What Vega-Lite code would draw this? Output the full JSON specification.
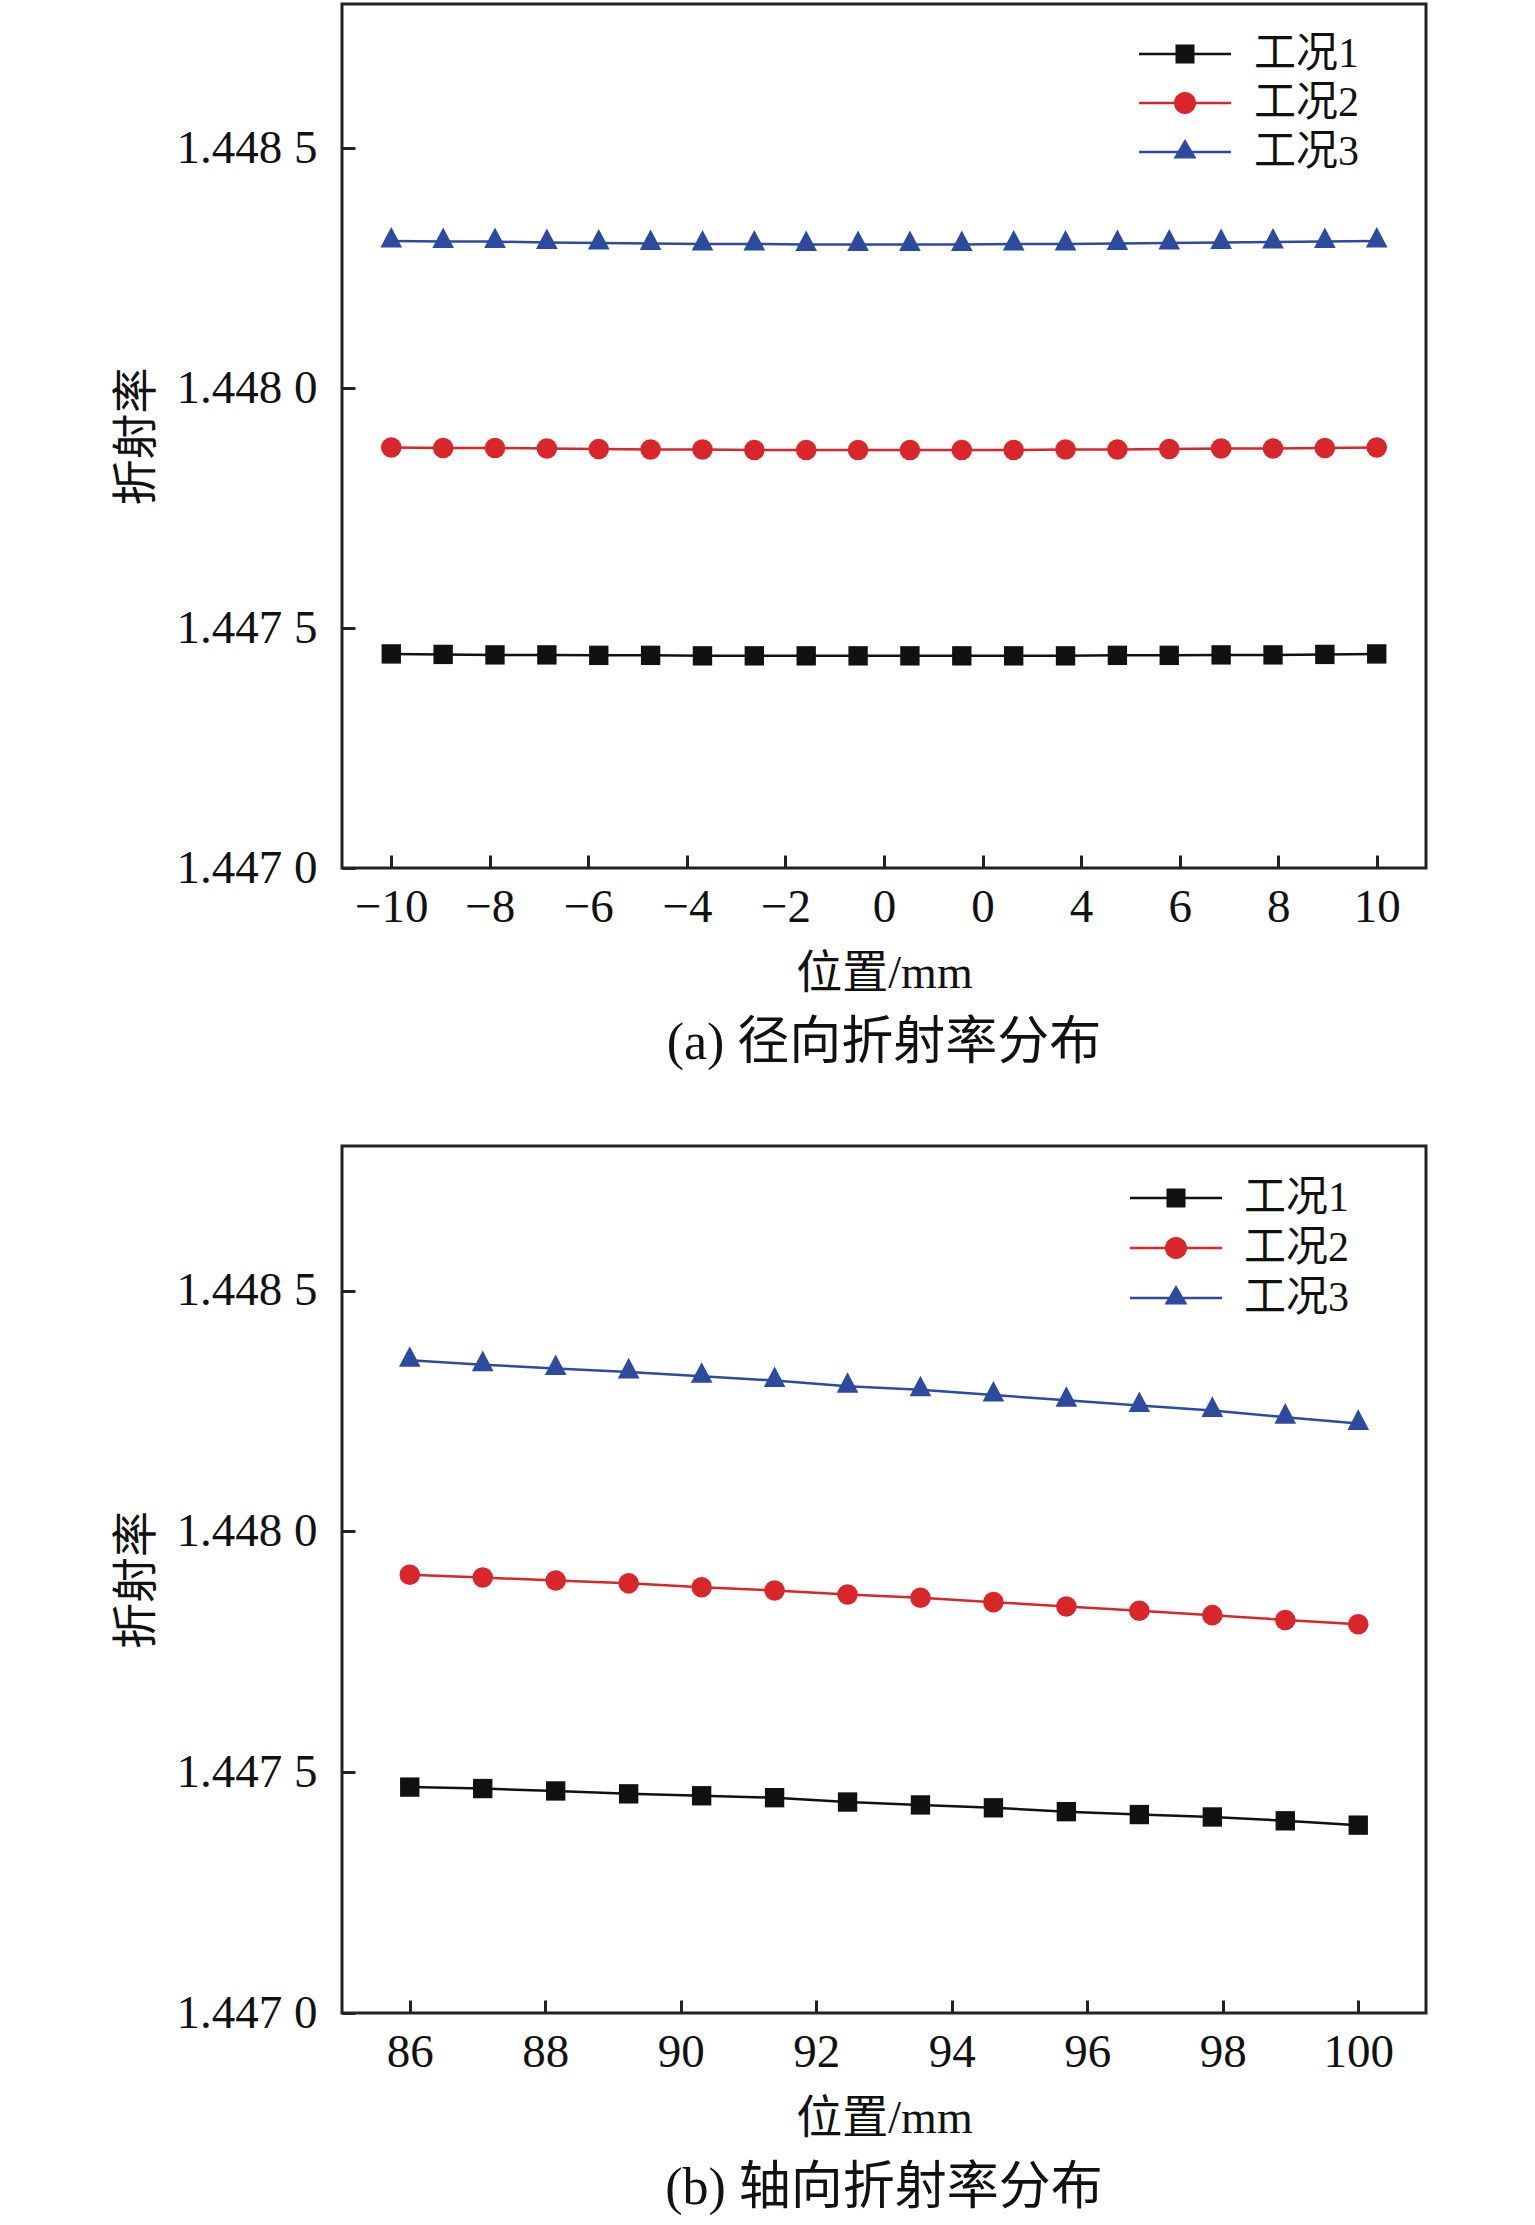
{
  "$schema": "https://vega.github.io/schema/vega-lite/v6.json",
  "padding": {"left": 111, "top": 2, "right": 5, "bottom": 5},
  "background": "white",
  "bounds": "flush",
  "spacing": 278,
  "config": {
    "view": {"stroke": "#222222", "strokeWidth": 3},
    "axis": {
      "grid": false,
      "domain": false,
      "ticks": true,
      "tickSize": -13,
      "tickWidth": 3,
      "tickColor": "#222222",
      "labelFont": "Liberation Serif, Noto Sans CJK SC",
      "labelFontSize": 47,
      "labelColor": "#111111",
      "titleFont": "Liberation Serif, Noto Sans CJK SC",
      "titleFontSize": 46,
      "titleFontWeight": "normal",
      "titleColor": "#111111"
    },
    "legend": {
      "labelFont": "Liberation Serif, Noto Sans CJK SC",
      "labelFontSize": 42,
      "labelColor": "#111111"
    },
    "title": {
      "font": "Liberation Serif, Noto Sans CJK SC",
      "fontSize": 52,
      "fontWeight": "normal",
      "color": "#111111"
    }
  },
  "datasets": {
    "radial": [
      {"x": -10, "n": 1.447446, "series": "工况1"},
      {"x": -8.947, "n": 1.447445, "series": "工况1"},
      {"x": -7.895, "n": 1.447444, "series": "工况1"},
      {"x": -6.842, "n": 1.447444, "series": "工况1"},
      {"x": -5.789, "n": 1.447443, "series": "工况1"},
      {"x": -4.737, "n": 1.447443, "series": "工况1"},
      {"x": -3.684, "n": 1.447442, "series": "工况1"},
      {"x": -2.632, "n": 1.447442, "series": "工况1"},
      {"x": -1.579, "n": 1.447442, "series": "工况1"},
      {"x": -0.526, "n": 1.447442, "series": "工况1"},
      {"x": 0.526, "n": 1.447442, "series": "工况1"},
      {"x": 1.579, "n": 1.447442, "series": "工况1"},
      {"x": 2.632, "n": 1.447442, "series": "工况1"},
      {"x": 3.684, "n": 1.447442, "series": "工况1"},
      {"x": 4.737, "n": 1.447443, "series": "工况1"},
      {"x": 5.789, "n": 1.447443, "series": "工况1"},
      {"x": 6.842, "n": 1.447444, "series": "工况1"},
      {"x": 7.895, "n": 1.447444, "series": "工况1"},
      {"x": 8.947, "n": 1.447445, "series": "工况1"},
      {"x": 10, "n": 1.447446, "series": "工况1"},
      {"x": -10, "n": 1.447876, "series": "工况2"},
      {"x": -8.947, "n": 1.447875, "series": "工况2"},
      {"x": -7.895, "n": 1.447875, "series": "工况2"},
      {"x": -6.842, "n": 1.447874, "series": "工况2"},
      {"x": -5.789, "n": 1.447873, "series": "工况2"},
      {"x": -4.737, "n": 1.447872, "series": "工况2"},
      {"x": -3.684, "n": 1.447872, "series": "工况2"},
      {"x": -2.632, "n": 1.447871, "series": "工况2"},
      {"x": -1.579, "n": 1.447871, "series": "工况2"},
      {"x": -0.526, "n": 1.447871, "series": "工况2"},
      {"x": 0.526, "n": 1.447871, "series": "工况2"},
      {"x": 1.579, "n": 1.447871, "series": "工况2"},
      {"x": 2.632, "n": 1.447871, "series": "工况2"},
      {"x": 3.684, "n": 1.447872, "series": "工况2"},
      {"x": 4.737, "n": 1.447872, "series": "工况2"},
      {"x": 5.789, "n": 1.447873, "series": "工况2"},
      {"x": 6.842, "n": 1.447874, "series": "工况2"},
      {"x": 7.895, "n": 1.447874, "series": "工况2"},
      {"x": 8.947, "n": 1.447875, "series": "工况2"},
      {"x": 10, "n": 1.447876, "series": "工况2"},
      {"x": -10, "n": 1.448306, "series": "工况3"},
      {"x": -8.947, "n": 1.448305, "series": "工况3"},
      {"x": -7.895, "n": 1.448305, "series": "工况3"},
      {"x": -6.842, "n": 1.448303, "series": "工况3"},
      {"x": -5.789, "n": 1.448302, "series": "工况3"},
      {"x": -4.737, "n": 1.448301, "series": "工况3"},
      {"x": -3.684, "n": 1.4483, "series": "工况3"},
      {"x": -2.632, "n": 1.4483, "series": "工况3"},
      {"x": -1.579, "n": 1.448299, "series": "工况3"},
      {"x": -0.526, "n": 1.448299, "series": "工况3"},
      {"x": 0.526, "n": 1.448299, "series": "工况3"},
      {"x": 1.579, "n": 1.448299, "series": "工况3"},
      {"x": 2.632, "n": 1.4483, "series": "工况3"},
      {"x": 3.684, "n": 1.4483, "series": "工况3"},
      {"x": 4.737, "n": 1.448301, "series": "工况3"},
      {"x": 5.789, "n": 1.448302, "series": "工况3"},
      {"x": 6.842, "n": 1.448303, "series": "工况3"},
      {"x": 7.895, "n": 1.448304, "series": "工况3"},
      {"x": 8.947, "n": 1.448305, "series": "工况3"},
      {"x": 10, "n": 1.448306, "series": "工况3"}
    ],
    "axial": [
      {"x": 86, "n": 1.447469, "series": "工况1"},
      {"x": 87.077, "n": 1.447466, "series": "工况1"},
      {"x": 88.154, "n": 1.447461, "series": "工况1"},
      {"x": 89.231, "n": 1.447455, "series": "工况1"},
      {"x": 90.308, "n": 1.447451, "series": "工况1"},
      {"x": 91.385, "n": 1.447447, "series": "工况1"},
      {"x": 92.462, "n": 1.447438, "series": "工况1"},
      {"x": 93.538, "n": 1.447432, "series": "工况1"},
      {"x": 94.615, "n": 1.447426, "series": "工况1"},
      {"x": 95.692, "n": 1.447418, "series": "工况1"},
      {"x": 96.769, "n": 1.447412, "series": "工况1"},
      {"x": 97.846, "n": 1.447407, "series": "工况1"},
      {"x": 98.923, "n": 1.447399, "series": "工况1"},
      {"x": 100, "n": 1.44739, "series": "工况1"},
      {"x": 86, "n": 1.44791, "series": "工况2"},
      {"x": 87.077, "n": 1.447904, "series": "工况2"},
      {"x": 88.154, "n": 1.447898, "series": "工况2"},
      {"x": 89.231, "n": 1.447892, "series": "工况2"},
      {"x": 90.308, "n": 1.447884, "series": "工况2"},
      {"x": 91.385, "n": 1.447877, "series": "工况2"},
      {"x": 92.462, "n": 1.447869, "series": "工况2"},
      {"x": 93.538, "n": 1.447862, "series": "工况2"},
      {"x": 94.615, "n": 1.447853, "series": "工况2"},
      {"x": 95.692, "n": 1.447844, "series": "工况2"},
      {"x": 96.769, "n": 1.447835, "series": "工况2"},
      {"x": 97.846, "n": 1.447826, "series": "工况2"},
      {"x": 98.923, "n": 1.447816, "series": "工况2"},
      {"x": 100, "n": 1.447807, "series": "工况2"},
      {"x": 86, "n": 1.448355, "series": "工况3"},
      {"x": 87.077, "n": 1.448346, "series": "工况3"},
      {"x": 88.154, "n": 1.448338, "series": "工况3"},
      {"x": 89.231, "n": 1.448331, "series": "工况3"},
      {"x": 90.308, "n": 1.448322, "series": "工况3"},
      {"x": 91.385, "n": 1.448313, "series": "工况3"},
      {"x": 92.462, "n": 1.448301, "series": "工况3"},
      {"x": 93.538, "n": 1.448294, "series": "工况3"},
      {"x": 94.615, "n": 1.448283, "series": "工况3"},
      {"x": 95.692, "n": 1.448272, "series": "工况3"},
      {"x": 96.769, "n": 1.448261, "series": "工况3"},
      {"x": 97.846, "n": 1.448251, "series": "工况3"},
      {"x": 98.923, "n": 1.448237, "series": "工况3"},
      {"x": 100, "n": 1.448224, "series": "工况3"}
    ]
  },
  "vconcat": [
    {
      "width": 1084,
      "height": 864,
      "data": {"name": "radial"},
      "title": {"text": "(a) 径向折射率分布", "orient": "bottom", "offset": 22, "anchor": "middle"},
      "encoding": {
        "x": {
          "field": "x", "type": "quantitative",
          "scale": {"domain": [-11, 11], "nice": false, "zero": false},
          "axis": {"title": "位置/mm", "values": [-10, -8, -6, -4, -2, 0, 2, 4, 6, 8, 10], "format": "d", "labelExpr": "datum.value == 2 ? '0' : datum.label", "labelPadding": 29, "titlePadding": 21}
        },
        "y": {
          "field": "n", "type": "quantitative",
          "scale": {"domain": [1.447, 1.4488], "nice": false, "zero": false},
          "axis": {"title": "折射率", "values": [1.447, 1.4475, 1.448, 1.4485], "labelExpr": "slice(format(datum.value, '.4f'), 0, 5) + ' ' + slice(format(datum.value, '.4f'), 5)", "labelPadding": 38, "titlePadding": 16}
        }
      },
      "layer": [
        {
          "mark": {"type": "line", "strokeWidth": 2.5},
          "encoding": {
            "stroke": {
              "field": "series", "type": "nominal",
              "scale": {"domain": ["工况1", "工况2", "工况3"], "range": ["#111111", "#d8262b", "#2c4a9e"]},
              "legend": null
            }
          }
        },
        {
          "mark": {"type": "point", "filled": true, "opacity": 1, "strokeWidth": 0},
          "encoding": {
            "fill": {
              "field": "series", "type": "nominal",
              "scale": {"range": ["#111111", "#d8262b", "#2c4a9e"]},
              "legend": null
            },
            "shape": {
              "field": "series", "type": "nominal",
              "scale": {"range": ["square", "circle", "M0,-1.3L1,0.6L-1,0.6Z"]},
              "legend": null
            },
            "size": {
              "field": "series", "type": "nominal",
              "scale": {"range": [375, 470, 650]},
              "legend": null
            }
          }
        },
        {
          "mark": {"type": "point", "filled": true, "opacity": 0, "strokeWidth": 0},
          "encoding": {
            "fill": {
              "field": "series", "type": "nominal",
              "scale": {"range": ["#111111", "#d8262b", "#2c4a9e"]},
              "legend": {"orient": "none", "legendX": 822, "legendY": 29, "title": null, "symbolSize": 400, "symbolStrokeWidth": 0, "symbolOpacity": 1, "labelOffset": 48, "rowPadding": 7, "padding": 0}
            },
            "shape": {
              "field": "series", "type": "nominal",
              "scale": {"range": [
                "M-4.6,-0.125L4.6,-0.125L4.6,0.125L-4.6,0.125Z M-0.95,-0.95L0.95,-0.95L0.95,0.95L-0.95,0.95Z",
                "M-4.6,-0.125L4.6,-0.125L4.6,0.125L-4.6,0.125Z M1.1,0A1.1,1.1 0 1,1 -1.1,0A1.1,1.1 0 1,1 1.1,0Z",
                "M-4.6,-0.125L4.6,-0.125L4.6,0.125L-4.6,0.125Z M0,-1.3L1.15,0.65L-1.15,0.65Z"
              ]},
              "legend": {"orient": "none", "legendX": 822, "legendY": 29, "title": null, "symbolSize": 400, "symbolStrokeWidth": 0, "symbolOpacity": 1, "labelOffset": 48, "rowPadding": 7, "padding": 0}
            }
          }
        }
      ],
      "resolve": {"scale": {"shape": "independent", "fill": "independent"}, "legend": {"shape": "independent", "fill": "independent"}}
    },
    {
      "width": 1084,
      "height": 867,
      "data": {"name": "axial"},
      "title": {"text": "(b) 轴向折射率分布", "orient": "bottom", "offset": 22, "anchor": "middle"},
      "encoding": {
        "x": {
          "field": "x", "type": "quantitative",
          "scale": {"domain": [85, 101], "nice": false, "zero": false},
          "axis": {"title": "位置/mm", "values": [86, 88, 90, 92, 94, 96, 98, 100], "format": "d", "labelPadding": 29, "titlePadding": 21}
        },
        "y": {
          "field": "n", "type": "quantitative",
          "scale": {"domain": [1.447, 1.4488], "nice": false, "zero": false},
          "axis": {"title": "折射率", "values": [1.447, 1.4475, 1.448, 1.4485], "labelExpr": "slice(format(datum.value, '.4f'), 0, 5) + ' ' + slice(format(datum.value, '.4f'), 5)", "labelPadding": 38, "titlePadding": 16}
        }
      },
      "layer": [
        {
          "mark": {"type": "line", "strokeWidth": 2.5},
          "encoding": {
            "stroke": {
              "field": "series", "type": "nominal",
              "scale": {"domain": ["工况1", "工况2", "工况3"], "range": ["#111111", "#d8262b", "#2c4a9e"]},
              "legend": null
            }
          }
        },
        {
          "mark": {"type": "point", "filled": true, "opacity": 1, "strokeWidth": 0},
          "encoding": {
            "fill": {
              "field": "series", "type": "nominal",
              "scale": {"range": ["#111111", "#d8262b", "#2c4a9e"]},
              "legend": null
            },
            "shape": {
              "field": "series", "type": "nominal",
              "scale": {"range": ["square", "circle", "M0,-1.3L1,0.6L-1,0.6Z"]},
              "legend": null
            },
            "size": {
              "field": "series", "type": "nominal",
              "scale": {"range": [375, 470, 650]},
              "legend": null
            }
          }
        },
        {
          "mark": {"type": "point", "filled": true, "opacity": 0, "strokeWidth": 0},
          "encoding": {
            "fill": {
              "field": "series", "type": "nominal",
              "scale": {"range": ["#111111", "#d8262b", "#2c4a9e"]},
              "legend": {"orient": "none", "legendX": 813, "legendY": 31, "title": null, "symbolSize": 400, "symbolStrokeWidth": 0, "symbolOpacity": 1, "labelOffset": 47, "rowPadding": 8, "padding": 0}
            },
            "shape": {
              "field": "series", "type": "nominal",
              "scale": {"range": [
                "M-4.6,-0.125L4.6,-0.125L4.6,0.125L-4.6,0.125Z M-0.95,-0.95L0.95,-0.95L0.95,0.95L-0.95,0.95Z",
                "M-4.6,-0.125L4.6,-0.125L4.6,0.125L-4.6,0.125Z M1.1,0A1.1,1.1 0 1,1 -1.1,0A1.1,1.1 0 1,1 1.1,0Z",
                "M-4.6,-0.125L4.6,-0.125L4.6,0.125L-4.6,0.125Z M0,-1.3L1.15,0.65L-1.15,0.65Z"
              ]},
              "legend": {"orient": "none", "legendX": 813, "legendY": 31, "title": null, "symbolSize": 400, "symbolStrokeWidth": 0, "symbolOpacity": 1, "labelOffset": 47, "rowPadding": 8, "padding": 0}
            }
          }
        }
      ],
      "resolve": {"scale": {"shape": "independent", "fill": "independent"}, "legend": {"shape": "independent", "fill": "independent"}}
    }
  ],
  "resolve": {"scale": {"stroke": "independent", "fill": "independent", "shape": "independent", "size": "independent"}, "legend": {"stroke": "independent", "fill": "independent", "shape": "independent"}}
}
